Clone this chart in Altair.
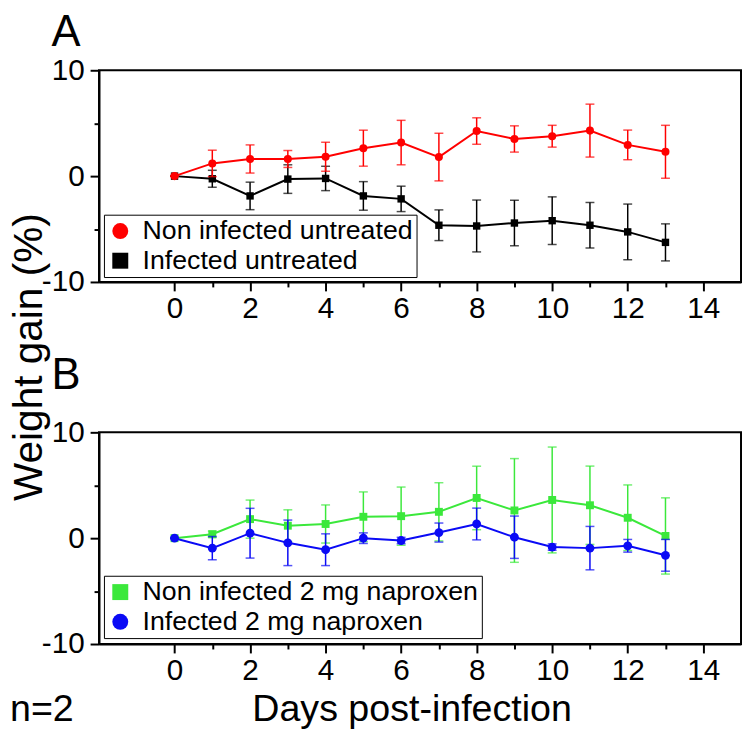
import altair as alt
import pandas as pd

FONT = "Liberation Sans"

days = list(range(14))

# Panel A
names_a = ["Non infected untreated", "Infected untreated"]
nonInf_untr = [0, 1.2, 1.62, 1.62, 1.83, 2.64, 3.17, 1.8, 4.26, 3.51, 3.77, 4.3, 2.95, 2.3]
nonInf_untr_err = [0, 1.25, 1.33, 0.8, 1.37, 1.7, 2.1, 2.25, 1.25, 1.24, 1.03, 2.5, 1.4, 2.5]
inf_untr = [0, -0.25, -1.87, -0.28, -0.22, -1.87, -2.15, -4.64, -4.71, -4.43, -4.21, -4.64, -5.27, -6.26]
inf_untr_err = [0, 0.8, 1.3, 1.35, 1.15, 1.35, 1.2, 1.45, 2.45, 2.15, 2.25, 2.15, 2.63, 1.75]

# Panel B
names_b = ["Non infected 2 mg naproxen", "Infected 2 mg naproxen"]
nonInf_nap = [0, 0.37, 1.8, 1.18, 1.34, 2.02, 2.08, 2.49, 3.8, 2.62, 3.61, 3.11, 1.93, 0.21]
nonInf_nap_err = [0, 0.3, 1.8, 1.5, 1.8, 2.35, 2.75, 2.75, 3.0, 4.9, 5.0, 3.7, 3.1, 3.6]
inf_nap = [0, -0.94, 0.47, -0.44, -1.09, 0, -0.22, 0.53, 1.34, 0.09, -0.84, -0.94, -0.72, -1.62]
inf_nap_err = [0, 1.1, 2.35, 2.15, 1.5, 0.5, 0.3, 0.9, 1.5, 2.0, 0.3, 2.05, 0.6, 1.5]

x_ticks = list(range(0, 15))
y_ticks = [-10, -5, 0, 5, 10]

panel_letters = ["A", "B"]
y_title = "Weight gain (%)"
x_title = "Days post-infection"
note_text = "n=2"


def make_df(name, vals, errs):
    return pd.DataFrame({
        "day": days,
        "value": vals,
        "lo": [v - e for v, e in zip(vals, errs)],
        "hi": [v + e for v, e in zip(vals, errs)],
        "group": [name] * len(days),
    })


xscale = alt.Scale(domain=[-2, 15], nice=False, zero=False)
yscale = alt.Scale(domain=[-10, 10], nice=False)

xaxis = alt.Axis(
    values=x_ticks,
    labelExpr="datum.value % 2 === 0 ? '' + datum.value : ''",
    tickSize={"condition": {"test": "datum.value % 2 === 0", "value": 9}, "value": 5},
    labelPadding=3,
    labelFlush=False,
    labelOverlap=False,
    title=None,
)

yaxis = alt.Axis(
    values=y_ticks,
    labelExpr="datum.value % 10 === 0 ? '' + datum.value : ''",
    tickSize={"condition": {"test": "datum.value % 10 === 0", "value": 9}, "value": 5},
    labelPadding=6,
    title=None,
    labelFlush=False,
    labelOverlap=False,
)


def series(df, names, colors, shapes, idx, legend_y, psize):
    name = names[idx]
    col = colors[idx]
    base = alt.Chart(df[df.group == name])
    X = alt.X("day:Q", scale=xscale, axis=xaxis)
    rule = base.mark_rule(strokeWidth=1.5, color=col).encode(
        x=X, y=alt.Y("lo:Q", scale=yscale, axis=yaxis), y2="hi:Q")
    cap_lo = base.mark_tick(orient="horizontal", size=9, thickness=1.5, color=col).encode(
        x=X, y=alt.Y("lo:Q", scale=yscale, axis=yaxis))
    cap_hi = base.mark_tick(orient="horizontal", size=9, thickness=1.5, color=col).encode(
        x=X, y=alt.Y("hi:Q", scale=yscale, axis=yaxis))
    line = base.mark_line(strokeWidth=2, color=col).encode(
        x=X, y=alt.Y("value:Q", scale=yscale, axis=yaxis))
    leg = alt.Legend(
        orient="none", legendX=5, legendY=legend_y, title=None,
        labelFont=FONT, labelFontSize=27, labelColor="black",
        symbolSize=260, symbolStrokeWidth=0, strokeColor="black",
        fillColor="white", padding=3, rowPadding=2, labelOffset=9,
        labelLimit=600,
    )
    pts = base.mark_point(filled=True, size=psize[idx], opacity=1).encode(
        x=X, y=alt.Y("value:Q", scale=yscale, axis=yaxis),
        color=alt.Color("group:N", scale=alt.Scale(domain=names, range=colors), legend=leg),
        shape=alt.Shape("group:N", scale=alt.Scale(domain=names, range=shapes), legend=leg),
    )
    return [rule, cap_lo, cap_hi, line, pts]


def label(text, x, y, size, align="left", baseline="alphabetic", angle=0):
    return alt.Chart(pd.DataFrame({"t": [text]})).mark_text(
        align=align, baseline=baseline, font=FONT, fontSize=size, color="black", angle=angle
    ).encode(text="t:N", x=alt.value(x), y=alt.value(y))


df_a = pd.concat([make_df(names_a[0], nonInf_untr, nonInf_untr_err),
                  make_df(names_a[1], inf_untr, inf_untr_err)])
df_b = pd.concat([make_df(names_b[0], nonInf_nap, nonInf_nap_err),
                  make_df(names_b[1], inf_nap, inf_nap_err)])

colors_a = ["#ff0000", "#000000"]
shapes_a = ["circle", "square"]
colors_b = ["#3be83b", "#0a0af5"]
shapes_b = ["square", "circle"]

W, H = 649, 214

# draw order: black under red; green under blue
layers_a = series(df_a, names_a, colors_a, shapes_a, 1, 146, [66, 56]) + \
    series(df_a, names_a, colors_a, shapes_a, 0, 146, [66, 56])
layers_a += [
    label(panel_letters[0], -48, -25, 44),
    label(y_title, -90, 290, 41, align="center", baseline="top", angle=270),
]

layers_b = series(df_b, names_b, colors_b, shapes_b, 0, 145, [64, 80]) + \
    series(df_b, names_b, colors_b, shapes_b, 1, 145, [64, 80])
layers_b += [
    label(panel_letters[1], -48, -44, 44),
    label(note_text, -90, 292, 38),
    label(x_title, W / 2 - 8, 292, 38, align="center"),
]

panel_a = alt.layer(*layers_a).properties(width=W, height=H)
panel_b = alt.layer(*layers_b).properties(width=W, height=H)

chart = alt.vconcat(panel_a, panel_b, spacing=152, bounds="flush").resolve_scale(
    color="independent", shape="independent"
).properties(
    padding={"left": 0, "top": -2, "right": 0, "bottom": 0},
).configure_view(
    stroke="black", strokeWidth=2
).configure_axis(
    domainColor="black", domainWidth=2, tickColor="black", tickWidth=2,
    labelFont=FONT, labelFontSize=30, labelColor="black", grid=False,
)

chart.save("out.html", embed_options={"renderer": "svg", "actions": False})
